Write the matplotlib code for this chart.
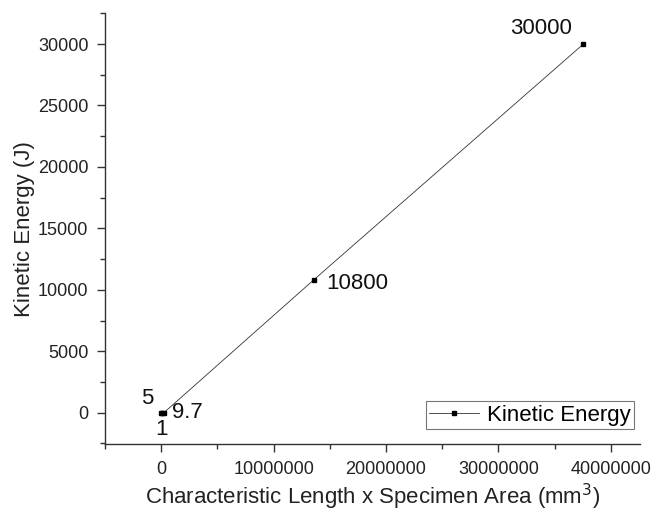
import matplotlib
matplotlib.use("Agg")
import matplotlib.pyplot as plt
from matplotlib.ticker import MultipleLocator, AutoMinorLocator

plt.rcParams['font.family'] = ['Liberation Sans', 'DejaVu Sans']

# data
length_area = [10000, 100000, 250000, 13560000, 37560000]
energy = [1, 5, 9.7, 10800, 30000]
point_labels = ['1', '5', '9.7', '10800', '30000']
# label offsets in points (dx, dy) and alignment
label_offsets = [(0, -12), (-11, 10), (6, 0), (9, -2.5), (-8.5, 11)]
label_align = [('center', 'center'), ('center', 'center'), ('left', 'center'),
               ('left', 'center'), ('right', 'center')]

fig = plt.figure(figsize=(6.54, 5.13), dpi=100)
ax = fig.add_axes([0.1606, 0.134, 0.818, 0.84])

ax.plot(length_area, energy, color='#333333', linewidth=0.6, marker='s',
        markersize=3.2, markerfacecolor='black', markeredgecolor='black',
        label='Kinetic Energy')

for x, y, t, off, al in zip(length_area, energy, point_labels, label_offsets, label_align):
    ax.annotate(t, (x, y), xytext=off, textcoords='offset points',
                ha=al[0], va=al[1], fontsize=16, color='#111111')

ax.set_xlim(-5000000, 42600000)
ax.set_ylim(-2570, 32500)
ax.xaxis.set_major_locator(MultipleLocator(10000000))
ax.xaxis.set_minor_locator(AutoMinorLocator(2))
ax.yaxis.set_major_locator(MultipleLocator(5000))
ax.yaxis.set_minor_locator(AutoMinorLocator(2))
ax.ticklabel_format(style='plain', useOffset=False)

for s in ['top', 'right']:
    ax.spines[s].set_visible(False)
for s in ['left', 'bottom']:
    ax.spines[s].set_color('#333333')
    ax.spines[s].set_linewidth(1.0)

ax.tick_params(which='major', direction='out', length=6, width=1,
               color='#333333', labelsize=13, labelcolor='#222222', pad=6)
ax.tick_params(which='minor', direction='out', length=3.5, width=1, color='#333333')

ax.set_xlabel('Characteristic Length x Specimen Area (mm$^3$)', fontsize=16,
              color='#222222', labelpad=2.5)
ax.set_ylabel('Kinetic Energy (J)', fontsize=16, color='#222222', labelpad=2)

leg = ax.legend(loc='lower right', bbox_to_anchor=(0.989, 0.0355), fontsize=16,
                frameon=True, fancybox=False, edgecolor='#555555',
                borderaxespad=0, handlelength=2.25, handletextpad=0.35,
                borderpad=0.15)
leg.get_frame().set_linewidth(0.8)

fig.savefig('out.png', dpi=100)
